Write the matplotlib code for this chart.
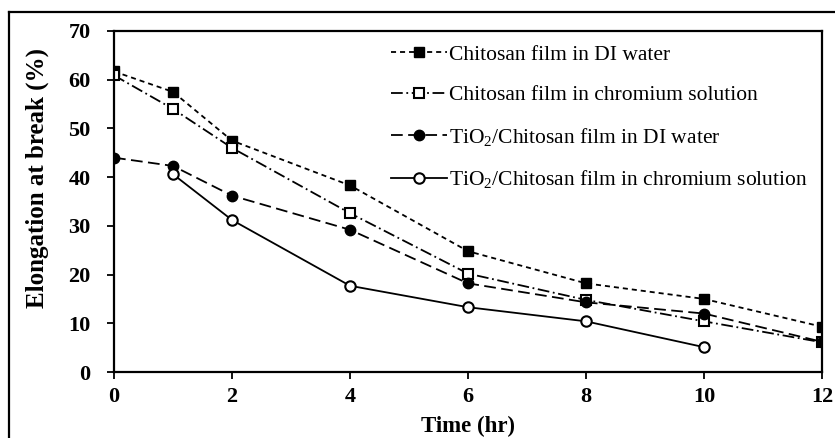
import matplotlib
matplotlib.use('Agg')
import matplotlib.pyplot as plt
from matplotlib.lines import Line2D

plt.rcParams['font.family'] = ['Liberation Serif', 'DejaVu Serif']
plt.rcParams['mathtext.fontset'] = 'custom'
plt.rcParams['mathtext.rm'] = 'Liberation Serif'
plt.rcParams['mathtext.default'] = 'regular'

# elongation at break (%) vs soaking time (hr)
time = [0, 1, 2, 4, 6, 8, 10, 12]
chitosan_di = [61.7, 57.5, 47.5, 38.3, 24.8, 18.2, 15.0, 9.3]
chitosan_cr = [60.9, 54.0, 46.0, 32.6, 20.2, 14.8, 10.4, 6.1]
tio2_di = [44.0, 42.3, 36.2, 29.2, 18.2, 14.3, 12.0, 6.2]
time_tio2_cr = [1, 2, 4, 6, 8, 10]
tio2_cr = [40.6, 31.2, 17.7, 13.3, 10.4, 5.1]

labels = ['Chitosan film in DI water',
          'Chitosan film in chromium solution',
          'TiO$_2$/Chitosan film in DI water',
          'TiO$_2$/Chitosan film in chromium solution']

fig = plt.figure(figsize=(8.35, 4.38), dpi=100)
ax = fig.add_axes([114/835, 1 - 372/438, (822 - 114)/835, (372 - 31)/438])

lw = 1.3
ax.plot(time, chitosan_di, color='k', lw=lw, dashes=(2.8, 2.2),
        marker='s', ms=7, mfc='k', mec='k', label=labels[0])
ax.plot(time, chitosan_cr, color='k', lw=lw, dashes=(6.5, 2, 1, 2),
        marker='s', ms=7, mfc='white', mec='k', mew=1.5, label=labels[1])
ax.plot(time, tio2_di, color='k', lw=lw, dashes=(6.5, 3),
        marker='o', ms=7.5, mfc='k', mec='k', label=labels[2])
ax.plot(time_tio2_cr, tio2_cr, color='k', lw=lw, ls='-',
        marker='o', ms=7.5, mfc='white', mec='k', mew=1.5, label=labels[3])

ax.set_xlim(0, 12)
ax.set_ylim(0, 70)
ax.set_xticks(range(0, 13, 2))
ax.set_yticks(range(0, 71, 10))
for s in ax.spines.values():
    s.set_linewidth(1.6)
ax.tick_params(axis='y', direction='out', length=5, width=1.3, pad=12, labelsize=16)
ax.tick_params(axis='x', direction='out', length=5, width=1.3, pad=6, labelsize=16)
for t in ax.get_xticklabels() + ax.get_yticklabels():
    t.set_fontweight('bold')

ax.set_xlabel('Time (hr)', fontsize=16.5, fontweight='bold')
ax.set_ylabel('Elongation at break (%)', fontsize=18, fontweight='bold')
ax.xaxis.set_label_coords(0.5, -0.128)
ax.yaxis.set_label_coords(-0.092, 0.569)

leg = ax.legend(loc='upper left', bbox_to_anchor=((382 - 114)/708, 1 - 5/341),
                frameon=False, fontsize=15.5, handlelength=2.6, handletextpad=0.1,
                labelspacing=0.95, borderaxespad=0)

# outer frame around the figure
fig.add_artist(Line2D([9/835, 1], [1 - 12/438, 1 - 12/438], color='k', lw=1.6,
                      transform=fig.transFigure))
fig.add_artist(Line2D([9/835, 9/835], [0, 1 - 12/438], color='k', lw=1.6,
                      transform=fig.transFigure))

fig.savefig('out.png', dpi=100)
